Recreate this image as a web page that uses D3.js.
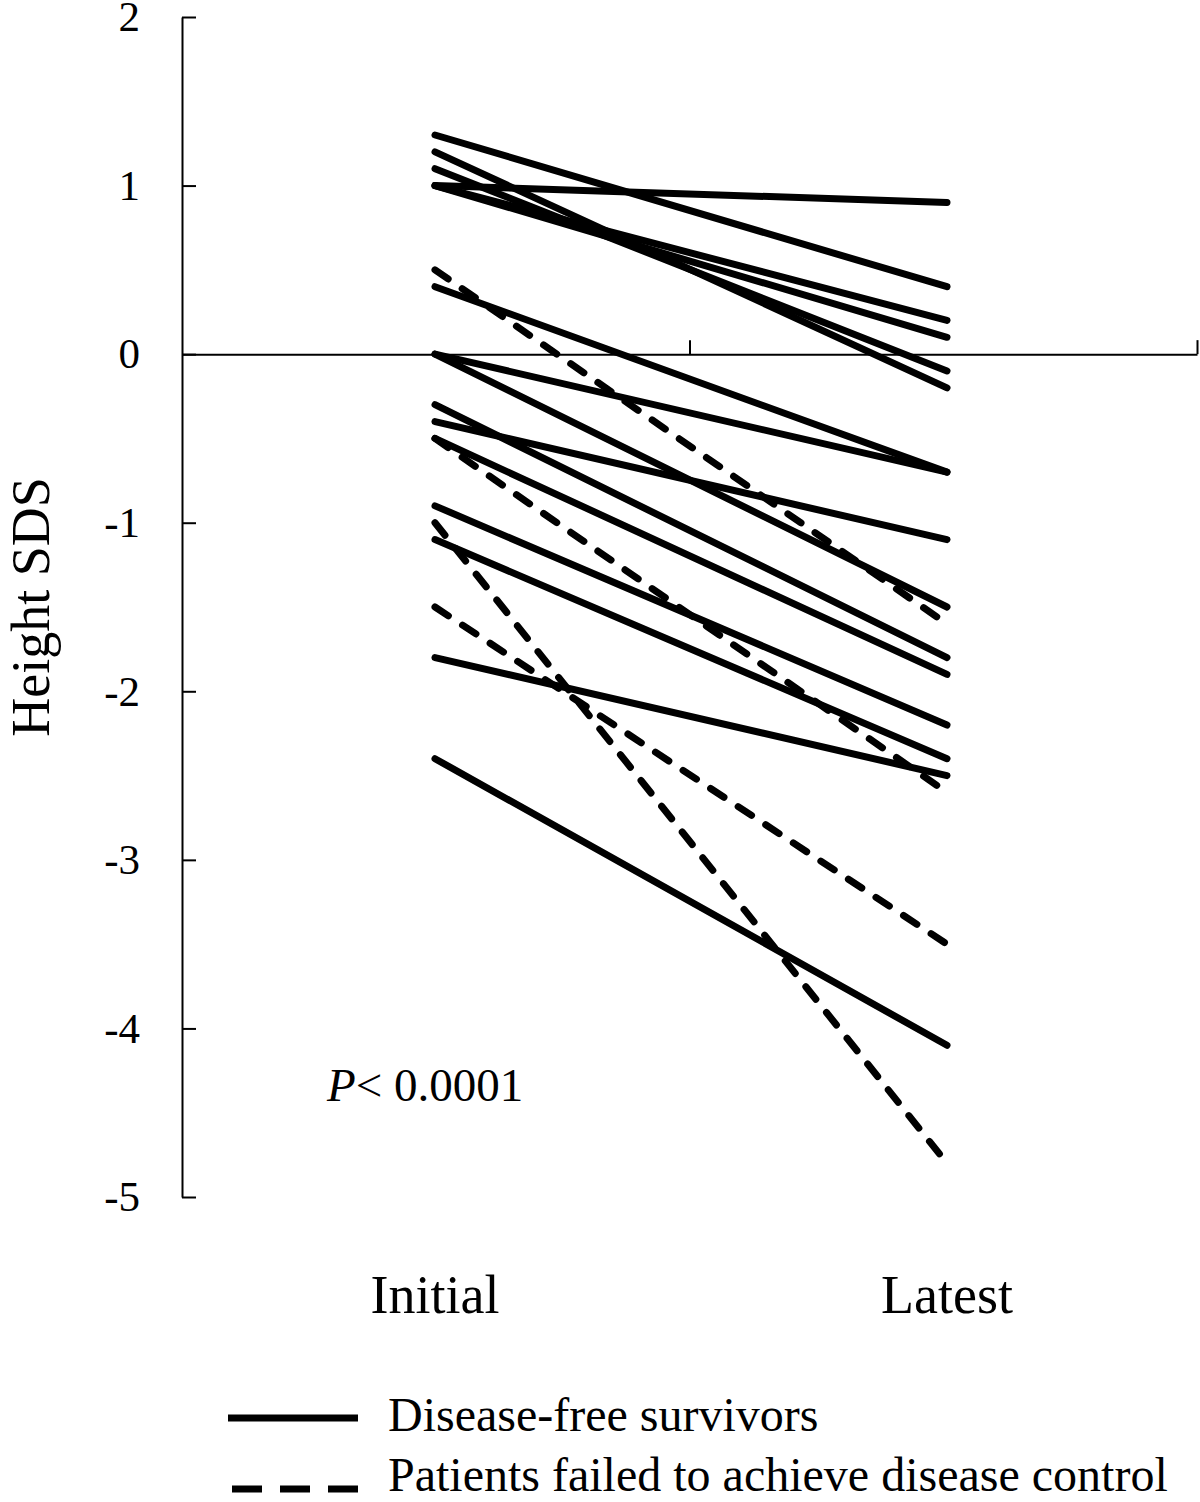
<!DOCTYPE html>
<html>
<head>
<meta charset="utf-8">
<script src="https://cdn.jsdelivr.net/npm/d3@7"></script>
<style>
  body { margin: 0; background: #fff; }
  text { font-family: "Liberation Serif", "DejaVu Serif", serif; fill: #000; }
</style>
</head>
<body>
<div id="chart"></div>
<script>
// Data
const solidInitial = [1.3, 1.2, 1.1, 1.0, 1.0, 1.0, 0.4, 0, 0, -0.3, -0.4, -0.5, -0.9, -1.1, -1.8, -2.4];
const solidLatest = [0.4, -0.2, -0.1, 0.2, 0.1, 0.9, -0.7, -0.7, -1.5, -1.8, -1.1, -1.9, -2.2, -2.4, -2.5, -4.1];
const dashedInitial = [0.5, -0.5, -1.0, -1.5];
const dashedLatest = [-1.6, -2.6, -4.8, -3.5];
const timepoints = ["Initial", "Latest"];
const yTicks = [2, 1, 0, -1, -2, -3, -4, -5];
const legendLabels = ["Disease-free survivors", "Patients failed to achieve disease control"];

const width = 1200;
const height = 1502;

const svg = d3.select("#chart")
  .append("svg")
  .attr("width", width)
  .attr("height", height);

// Scales
const xScale = d3.scaleLinear().domain([0, 2]).range([182, 1197]);
const xCat = d3.scalePoint().domain(timepoints).range([435, 947]);
const yScale = d3.scaleLinear().domain([-5, 2]).range([1197, 17]);

// Y axis (ticks point inward)
const yAxis = d3.axisLeft(yScale)
  .tickValues(yTicks)
  .tickSize(-14)
  .tickSizeOuter(0)
  .tickPadding(42)
  .tickFormat((d) => String(d));

const yAxisGroup = svg.append("g")
  .attr("transform", `translate(${xScale(0)},0)`)
  .call(yAxis);
yAxisGroup.select(".domain").attr("stroke-width", 2);
yAxisGroup.selectAll(".tick line").attr("stroke-width", 2);
yAxisGroup.selectAll(".tick text")
  .style("font-family", "'Liberation Serif', serif")
  .style("font-size", "43px")
  .attr("fill", "#000");

// X axis along y = 0
const xAxis = d3.axisTop(xScale)
  .tickValues([1, 2])
  .tickSize(14)
  .tickSizeOuter(0)
  .tickFormat("");

const xAxisGroup = svg.append("g")
  .attr("transform", `translate(0,${yScale(0)})`)
  .call(xAxis);
xAxisGroup.select(".domain").attr("stroke-width", 2);
xAxisGroup.selectAll(".tick line").attr("stroke-width", 2);

// Category labels
svg.selectAll(".cat")
  .data(timepoints)
  .join("text")
  .attr("class", "cat")
  .attr("x", (d) => xCat(d))
  .attr("y", 1313)
  .attr("text-anchor", "middle")
  .style("font-size", "54px")
  .text((d) => d);

// Y label
svg.append("text")
  .attr("transform", `translate(49, ${(yScale(2) + yScale(-5)) / 2}) rotate(-90)`)
  .attr("text-anchor", "middle")
  .style("font-size", "54px")
  .text("Height SDS");

// Lines
const solidData = solidInitial.map((v, i) => [v, solidLatest[i]]);
const dashedData = dashedInitial.map((v, i) => [v, dashedLatest[i]]);

const line = d3.line()
  .x((d, i) => xCat(timepoints[i]))
  .y((d) => yScale(d));

svg.append("g")
  .selectAll("path")
  .data(solidData)
  .join("path")
  .attr("d", line)
  .attr("fill", "none")
  .attr("stroke", "#000")
  .attr("stroke-width", 7)
  .attr("stroke-linecap", "round");

svg.append("g")
  .selectAll("path")
  .data(dashedData)
  .join("path")
  .attr("d", line)
  .attr("fill", "none")
  .attr("stroke", "#000")
  .attr("stroke-width", 7)
  .attr("stroke-linecap", "round")
  .attr("stroke-dasharray", "16,17");

// P value
const pText = svg.append("text")
  .attr("x", 327)
  .attr("y", 1101)
  .style("font-size", "47px");
pText.append("tspan").style("font-style", "italic").text("P");
pText.append("tspan").text("< 0.0001");

// Legend
const legend = svg.append("g");
legend.append("line")
  .attr("x1", 228).attr("x2", 358)
  .attr("y1", 1418).attr("y2", 1418)
  .attr("stroke", "#000")
  .attr("stroke-width", 7);
legend.append("line")
  .attr("x1", 232).attr("x2", 358)
  .attr("y1", 1489).attr("y2", 1489)
  .attr("stroke", "#000")
  .attr("stroke-width", 7)
  .attr("stroke-dasharray", "30,18");
legend.selectAll("text")
  .data(legendLabels)
  .join("text")
  .attr("x", 388)
  .attr("y", (d, i) => (i === 0 ? 1431 : 1491))
  .style("font-size", "48px")
  .text((d) => d);
</script>
</body>
</html>
